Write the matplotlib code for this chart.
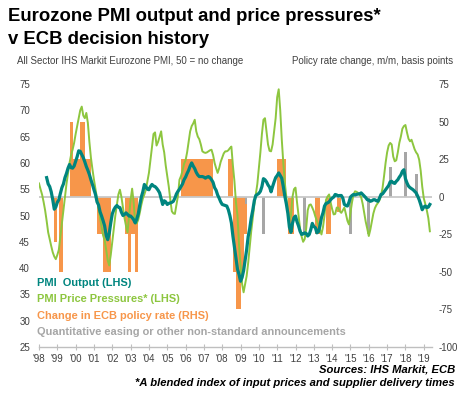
import matplotlib
matplotlib.use("Agg")
import matplotlib.pyplot as plt
import numpy as np

plt.rcParams['font.family'] = ['Liberation Sans', 'DejaVu Sans']
plt.rcParams['axes.unicode_minus'] = False

# ---------------- data ----------------
# PMI Output (LHS), monthly from Jun 1998
output_start = "1998-06"
pmi_output = [
    57.2, 56.0, 55.5, 54.5, 53.0, 51.2, 51.6,                                  # 1998 Jun-Dec
    52.5, 53.0, 54.2, 55.3, 56.0, 57.2, 58.0, 59.0, 59.7, 59.1, 59.0, 59.4,    # 1999
    60.3, 61.2, 62.3, 62.2, 61.6, 61.0, 60.2, 59.3, 58.6, 57.8, 56.8, 55.9,    # 2000
    54.9, 54.0, 52.6, 52.0, 50.7, 49.9, 49.0, 48.0, 46.2, 45.4, 46.6, 48.6,    # 2001
    50.3, 51.1, 51.6, 51.9, 51.6, 51.5, 50.6, 50.0, 50.2, 50.5, 50.2, 49.9,    # 2002
    49.9, 49.6, 49.2, 48.6, 49.3, 50.3, 52.0, 53.5, 54.5, 55.9, 55.5, 55.0,    # 2003
    54.9, 55.5, 55.9, 55.6, 55.5, 55.2, 54.8, 54.3, 53.2, 52.1, 52.8, 52.6,    # 2004
    52.1, 52.3, 52.4, 52.5, 52.7, 53.3, 54.1, 54.6, 55.0, 55.5, 56.0, 56.8,    # 2005
    57.3, 58.0, 58.6, 59.4, 60.0, 59.4, 58.9, 58.2, 57.7, 57.4, 57.4, 57.4,    # 2006
    57.3, 57.1, 57.3, 57.4, 57.2, 56.8, 56.3, 55.3, 54.8, 53.9, 53.3, 52.6,    # 2007
    52.1, 52.0, 51.9, 51.8, 51.1, 50.0, 48.6, 46.1, 44.0, 41.8, 39.8, 38.8,    # 2008
    37.5, 38.2, 39.5, 41.5, 43.5, 46.0, 47.5, 49.5, 51.0, 52.8, 53.8, 54.0,    # 2009
    54.2, 54.6, 55.5, 57.0, 56.8, 56.4, 55.8, 55.4, 54.5, 55.5, 56.4, 57.2,    # 2010
    57.6, 58.1, 57.6, 57.1, 55.5, 53.7, 52.2, 50.4, 47.8, 46.8, 48.5, 49.6,    # 2011
    49.9, 48.8, 48.0, 47.0, 46.4, 46.5, 46.7, 46.6, 46.1, 46.4, 47.3, 48.5,    # 2012
    47.9, 47.7, 46.7, 46.9, 48.0, 49.6, 50.5, 51.8, 52.3, 52.4, 52.6, 53.0,    # 2013
    53.3, 53.5, 54.0, 53.9, 53.7, 53.8, 53.8, 53.3, 52.1, 51.9, 51.8, 52.5,    # 2014
    53.5, 53.8, 54.0, 53.9, 54.0, 54.1, 54.1, 54.3, 54.0, 53.7, 53.4, 53.0,    # 2015
    52.9, 52.7, 52.8, 53.0, 53.0, 52.8, 52.7, 53.3, 54.0, 54.1, 54.5, 54.9,    # 2016
    55.3, 55.7, 56.4, 56.5, 56.2, 56.1, 56.5, 56.8, 57.3, 57.7, 58.4, 58.7,    # 2017
    57.0, 56.2, 55.6, 55.3, 55.1, 54.9, 54.6, 54.3, 53.7, 53.0, 52.1, 51.1,    # 2018
    51.6, 51.8, 51.5, 51.6, 52.1,                                              # 2019
]

# PMI Price Pressures (LHS), monthly from Jan 1998
price_start = "1998-01"
pmi_prices = [
    56.1, 55.0, 54.0, 52.6, 51.0, 49.0, 46.8, 45.5, 44.2, 43.0, 42.2, 41.7,    # 1998
    42.5, 43.5, 46.0, 48.5, 51.0, 53.5, 56.0, 58.0, 60.0, 61.5, 62.5, 63.8,    # 1999
    65.5, 67.0, 68.5, 70.0, 70.7, 69.0, 68.5, 69.5, 67.6, 64.0, 61.0, 58.8,    # 2000
    56.8, 55.0, 53.2, 51.5, 49.5, 47.8, 46.2, 45.3, 43.5, 41.5, 40.5, 42.5,    # 2001
    45.0, 47.5, 50.0, 52.0, 54.0, 54.9, 53.5, 51.5, 49.5, 48.0, 46.8, 50.0,    # 2002
    53.0, 55.1, 52.5, 48.5, 48.5, 49.2, 50.5, 52.0, 53.2, 54.0, 54.9, 56.5,    # 2003
    58.1, 60.5, 63.0, 65.5, 65.8, 63.3, 64.0, 65.0, 66.0, 63.5, 62.0, 59.5,    # 2004
    57.5, 55.5, 53.0, 50.8, 50.4, 50.3, 52.0, 53.7, 56.8, 57.5, 58.5, 59.8,    # 2005
    60.5, 62.0, 64.0, 66.0, 67.0, 67.5, 68.2, 66.0, 65.0, 64.5, 63.5, 62.2,    # 2006
    62.0, 61.9, 62.0, 62.2, 62.4, 62.5, 61.5, 60.0, 59.0, 58.1, 59.0, 60.2,    # 2007
    61.0, 61.8, 62.2, 62.2, 62.4, 62.8, 63.1, 59.5, 56.5, 52.5, 50.0, 44.5,    # 2008
    40.5, 37.0, 35.4, 37.0, 38.5, 41.0, 44.0, 47.0, 49.5, 52.0, 54.0, 56.0,    # 2009
    59.0, 62.0, 65.5, 68.2, 68.5, 66.0, 63.5, 62.3, 62.2, 63.5, 66.0, 68.5,    # 2010
    72.5, 74.0, 70.0, 64.5, 60.0, 56.2, 53.5, 51.0, 49.0, 50.0, 53.5, 55.0,    # 2011
    55.3, 52.5, 50.0, 47.5, 46.0, 45.0, 45.5, 47.5, 51.0, 52.0, 52.1, 51.5,    # 2012
    50.8, 49.8, 49.0, 48.2, 47.3, 46.4, 47.8, 50.0, 53.0, 53.6, 54.0, 52.5,    # 2013
    51.2, 50.2, 50.3, 51.5, 51.5, 50.8, 50.5, 51.0, 51.5, 50.3, 49.0, 48.3,    # 2014
    50.5, 52.5, 54.0, 54.6, 54.5, 54.3, 53.9, 53.5, 52.2, 50.5, 48.8, 47.5,    # 2015
    46.1, 47.3, 48.9, 50.4, 51.4, 52.0, 52.4, 52.9, 53.8, 55.2, 57.5, 60.0,    # 2016
    62.0, 63.3, 63.8, 63.5, 61.2, 60.3, 60.5, 62.0, 63.8, 65.0, 66.5, 67.0,    # 2017
    67.2, 65.8, 64.6, 64.1, 64.4, 63.5, 62.6, 62.0, 61.6, 60.6, 58.5, 55.5,    # 2018
    53.3, 52.2, 51.0, 49.5, 47.0,                                              # 2019
]

# Change in ECB policy rate (RHS, basis points): start month, months shown, change
policy_start = ["1998-11", "1999-02", "1999-09", "1999-11", "2000-04", "2000-07",
                "2001-03", "2001-07", "2002-09", "2002-11", "2003-01", "2003-04",
                "2005-10", "2008-05", "2008-08", "2008-10", "2009-01", "2009-03",
                "2011-01", "2011-08", "2013-02", "2013-09", "2014-04"]
policy_months = [2, 3, 2, 5, 3, 4, 4, 5, 2, 2, 3, 2, 21, 3, 2, 3, 2, 2, 6, 4, 3, 3, 3]
policy_change = [-30, -50, 50, 25, 50, 25, -25, -50, -25, -50, -25, -50,
                 25, 25, -50, -75, -50, -25, 25, -25, -25, -25, -10]

# Quantitative easing / non-standard announcements (RHS)
qe_start = ["2009-04", "2010-03", "2012-06", "2014-12", "2015-12", "2017-02", "2017-12", "2018-07"]
qe_months = [1, 2, 2, 2, 2, 2, 2, 2]
qe_value = [-5, -25, -25, -25, -25, 20, 30, 15]

year_labels = ["'98", "'99", "'00", "'01", "'02", "'03", "'04", "'05", "'06", "'07", "'08",
               "'09", "'10", "'11", "'12", "'13", "'14", "'15", "'16", "'17", "'18", "'19"]

# ---------------- helpers ----------------
def ym(s):
    y, m = s.split("-")
    return int(y) + (int(m) - 1) / 12.0

def monthly_x(start, n):
    return ym(start) + np.arange(n) / 12.0

TEAL = "#00857f"
GREEN = "#8dc63f"
ORANGE = "#f7964a"
GREY = "#a6a6a6"
TXT = "#404040"

W, H = 465, 395
fig = plt.figure(figsize=(W / 100, H / 100), dpi=100)

def fx(px):
    return px / W

def fy(py):
    return 1 - py / H

ax_left, ax_right, ax_top, ax_bottom = 39, 432, 84, 347
ax = fig.add_axes([fx(ax_left), fy(ax_bottom), (ax_right - ax_left) / W, (ax_bottom - ax_top) / H])
ax2 = ax.twinx()

# bars on right axis
ax2.bar([ym(s) for s in policy_start], policy_change, width=np.array(policy_months) / 12.0,
        align='edge', color=ORANGE, linewidth=0, zorder=1)
ax2.bar([ym(s) for s in qe_start], qe_value, width=np.array(qe_months) / 12.0,
        align='edge', color=GREY, linewidth=0, zorder=1)
ax2.axhline(0, color="#c8c8c8", linewidth=1.3, zorder=2)
ax2.set_ylim(-100, 75)
ax2.set_yticks(np.arange(-100, 76, 25))

# lines on left axis (drawn above bars)
ax.set_zorder(ax2.get_zorder() + 1)
ax.patch.set_visible(False)
ax.plot(monthly_x(price_start, len(pmi_prices)), pmi_prices, color=GREEN, linewidth=1.4, zorder=3)
ax.plot(monthly_x(output_start, len(pmi_output)), pmi_output, color=TEAL, linewidth=2.3, zorder=4,
        solid_joinstyle='round')
ax.set_ylim(25, 75)
ax.set_yticks(np.arange(25, 76, 5))
ax.set_xlim(1998.0, 2019.45)
ax.set_xticks(np.arange(1998, 2020))
ax.set_xticklabels(year_labels)

for a in (ax, ax2):
    for sp in a.spines.values():
        sp.set_visible(False)
ax.spines['bottom'].set_visible(True)
ax.spines['bottom'].set_color("#bfbfbf")
ax.spines['bottom'].set_linewidth(1.0)

ax.tick_params(axis='y', length=0, labelsize=7, labelcolor=TXT, pad=6.5)
ax2.tick_params(axis='y', length=0, labelsize=7, labelcolor=TXT, pad=5)
ax.tick_params(axis='x', direction='inout', length=4, color="#bfbfbf", labelsize=7,
               labelcolor=TXT, pad=3)
for lab in ax2.get_yticklabels():
    lab.set_horizontalalignment('left')

# titles
fig.text(fx(8), fy(21), "Eurozone PMI output and price pressures*", fontsize=13.3,
         fontweight='bold', color="black", va='baseline', ha='left')
fig.text(fx(8), fy(43.5), "v ECB decision history", fontsize=13.3,
         fontweight='bold', color="black", va='baseline', ha='left')
fig.text(fx(17), fy(64.5), "All Sector IHS Markit Eurozone PMI, 50 = no change", fontsize=7.0,
         color=TXT, va='baseline', ha='left')
fig.text(fx(453), fy(64.5), "Policy rate change, m/m, basis points", fontsize=7.0,
         color=TXT, va='baseline', ha='right')

# legend text
leg_items = [("PMI  Output (LHS)", TEAL), ("PMI Price Pressures* (LHS)", GREEN),
             ("Change in ECB policy rate (RHS)", ORANGE),
             ("Quantitative easing or other non-standard announcements", GREY)]
for i, (t, c) in enumerate(leg_items):
    fig.text(fx(37), fy(286 + i * 16.3), t, fontsize=7.9, fontweight='bold', color=c,
             va='baseline', ha='left')

# sources
fig.text(fx(455), fy(372.5), "Sources: IHS Markit, ECB", fontsize=8.1, fontweight='bold',
         style='italic', color="black", va='baseline', ha='right')
fig.text(fx(455), fy(386), "*A blended index of input prices and supplier delivery times",
         fontsize=8.1, fontweight='bold', style='italic', color="black", va='baseline', ha='right')

fig.savefig("out.png", dpi=100)
